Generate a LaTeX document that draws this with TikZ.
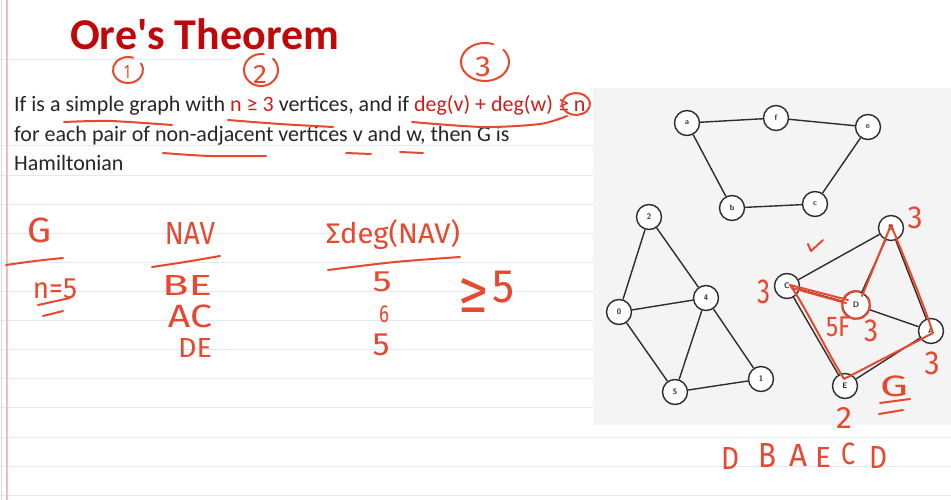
\documentclass[tikz,border=0pt]{standalone}
\usepackage{fontspec}
\usepackage{graphicx}
\setmainfont{Carlito}
\newfontfamily\hw{Fira Sans}
\definecolor{titlered}{RGB}{192,8,8}
\definecolor{txtred}{RGB}{205,30,30}
\definecolor{ink}{RGB}{232,72,46}
\definecolor{paperline}{RGB}{224,233,246}
\definecolor{margincol}{RGB}{242,188,194}
\definecolor{panelcol}{RGB}{244,244,244}
\definecolor{edgecol}{RGB}{45,45,45}
\newcommand\hwb[3]{\resizebox*{#1pt}{#2pt}{\hw #3}}
\tikzset{
  hwline/.style={draw=ink, line width=2pt, line cap=round, line join=round},
  vtx/.style={circle, draw=edgecol, line width=1.4pt, fill=white, minimum size=25pt, inner sep=0pt,
              font=\sffamily\bfseries\fontsize{8}{8}\selectfont, text=edgecol},
  gedge/.style={draw=edgecol, line width=1.4pt},
  hwtxt/.style={text=ink, inner sep=0pt},
  bodytxt/.style={anchor=base west, inner sep=0pt, text=black!85, font=\fontsize{22}{26}\selectfont}
}
\begin{document}
\begin{tikzpicture}[x=1pt,y=-1pt]
\useasboundingbox (0,0) rectangle (951,500);
\fill[white] (0,0) rectangle (951,500);
% notebook paper
\foreach \k in {0,...,12} \draw[paperline, line width=1pt] (0,{146+29.1*\k}) -- (951,{146+29.1*\k});
\draw[paperline, line width=1pt] (0,60) -- (233,60);
\draw[margincol, line width=1.5pt] (7,0) -- (7,500);
\draw[black!15, line width=0.8pt] (1,0) -- (1,500);
% title and statement
\node[anchor=base west, inner sep=0pt, text=titlered, font=\bfseries\fontsize{44}{44}\selectfont] (title) at (70,50) {Ore\textquotesingle s Theorem};
\node[bodytxt] (l1) at (14,112) {If is a simple graph with {\color{txtred}n ≥ 3} vertices, and if {\color{txtred}deg(v) + deg(w) ≥ n}};
\node[bodytxt] (l2) at (14,142) {for each pair of non-adjacent vertices v and w, then G is};
\node[bodytxt] (l3) at (14,171) {Hamiltonian};
% circled numbers
\draw[hwline] (128,70) ++(-30:15 and 13) arc[start angle=-30, end angle=290, x radius=15, y radius=13];
\node[hwtxt] (c1) at (127,72) {\hwb{6}{13}{1}};
\draw[hwline] (261,70) ++(-45:17 and 16) arc[start angle=-45, end angle=280, x radius=17, y radius=16];
\node[hwtxt] (c2) at (260,75) {\hwb{14}{18}{2}};
\draw[hwline] (485,62) ++(-40:24 and 19) arc[start angle=-40, end angle=290, x radius=24, y radius=19];
\node[hwtxt] (c3) at (483,67) {\hwb{16}{20}{3}};
\draw[hwline] (576,104) ++(60:14 and 11) arc[start angle=60, end angle=420, x radius=14, y radius=11];
% underlines
\draw[hwline] plot[smooth] coordinates {(64,122) (110,121) (172,125)};
\draw[hwline] plot[smooth] coordinates {(228,120) (280,124) (333,127)};
\draw[hwline] plot[smooth] coordinates {(412,122) (483,127) (540,124) (567,116)};
\draw[hwline] plot[smooth] coordinates {(163,153) (210,156) (266,156)};
\draw[hwline] (346,153) -- (371,154);
\draw[hwline] (400,152) -- (423,153);
% handwritten table
\node[hwtxt] (hG) at (40,230) {\hwb{24}{25}{G}};
\draw[hwline] plot[smooth] coordinates {(6,265) (35,261) (63,258)};
\node[hwtxt] (hn) at (55,289) {\hwb{44}{20}{n=5}};
\draw[hwline] (38,305) -- (70,298);
\draw[hwline] (43,316) -- (63,311);
\node[hwtxt] (hNAV) at (190,233) {\hwb{50}{22}{NAV}};
\draw[hwline] plot[smooth] coordinates {(152,267) (185,262) (220,256)};
\node[hwtxt] (hBE) at (187,285) {\hwb{50}{20}{BE}};
\node[hwtxt] (hAC) at (190,316) {\hwb{44}{23}{AC}};
\node[hwtxt] (hDE) at (195,348) {\hwb{34}{19}{DE}};
\node[hwtxt] (hSum) at (393,235) {\hwb{134}{30}{Σdeg(NAV)}};
\draw[hwline] plot[smooth] coordinates {(328,270) (395,262) (460,257)};
\node[hwtxt] (s1) at (382,282) {\hwb{19}{20}{5}};
\node[hwtxt] (s2) at (384,314) {\hwb{10}{17}{6}};
\node[hwtxt] (s3) at (381,345) {\hwb{17}{22}{5}};
\node[hwtxt] (hge) at (486,292) {\hwb{30}{34}{≥}\hspace{4pt}\raisebox{10pt}{\hwb{22}{32}{5}}};
% right panel
\fill[panelcol] (593,88) rectangle (951,425);
% graph 1
\node[vtx] (a) at (687,123) {a};
\node[vtx] (f) at (776,118) {f};
\node[vtx] (e) at (868,127) {e};
\node[vtx] (b) at (732,208) {b};
\node[vtx] (c) at (815,204) {c};
\draw[gedge] (a) -- (f) (f) -- (e) (a) -- (b) (b) -- (c) (c) -- (e);
% graph 2
\node[vtx] (n2) at (649,217) {2};
\node[vtx] (n0) at (619,312) {0};
\node[vtx] (n4) at (706,298) {4};
\node[vtx] (n5) at (675,392) {5};
\node[vtx] (n1) at (761,379) {1};
\draw[gedge] (n2) -- (n0) (n2) -- (n4) (n0) -- (n4) (n0) -- (n5) (n4) -- (n5) (n4) -- (n1) (n5) -- (n1);
% graph G
\node[vtx] (B) at (891,228) {B};
\node[vtx] (C) at (787,286) {C};
\node[vtx, minimum size=27pt] (D) at (856,305) {D};
\node[vtx] (A) at (931,331) {A};
\node[vtx] (E) at (845,386) {E};
\draw[gedge] (B) -- (C) (B) -- (A) (B) -- (D) (C) -- (D) (C) -- (E) (D) -- (A) (E) -- (A);
% red Hamiltonian cycle
\draw[hwline] ([shift={(6,-9)}]D.center) -- ([shift={(0,-3)}]B.center)
  .. controls (906,262) and (922,300) .. ([shift={(2,2)}]A.center)
  -- ([shift={(-1,-7)}]E.center)
  .. controls (826,350) and (805,306) .. ([shift={(3,-1)}]C.center)
  -- ([shift={(-8,-5)}]D.center);
\draw[hwline] ([shift={(5,2)}]C.center) -- ([shift={(-10,-2)}]D.center);
\draw[hwline] (D.center) ++(-35:14) arc[start angle=-35, end angle=285, radius=14];
\draw[hwline] (808,244) -- (811,251) -- (823,240);
\node[hwtxt] (dB) at (915,218) {\hwb{15}{22}{3}};
\node[hwtxt] (dC) at (764,292) {\hwb{13}{24}{3}};
\node[hwtxt] (dD1) at (838,327) {\hwb{24}{20}{5F}};
\node[hwtxt] (dD) at (871,331) {\hwb{14}{22}{3}};
\node[hwtxt] (dA) at (932,363) {\hwb{15}{23}{3}};
\node[hwtxt] (dE) at (844,418) {\hwb{16}{21}{2}};
\node[hwtxt] (gG) at (894,386) {\hwb{28}{21}{G}};
\draw[hwline] (880,403) -- (910,399);
\draw[hwline] (879,414) -- (903,410);
% Hamiltonian cycle written
\node[hwtxt] (q1) at (730,458) {\hwb{18}{22}{D}};
\node[hwtxt] (q2) at (767,455) {\hwb{18}{24}{B}};
\node[hwtxt] (q3) at (798,455) {\hwb{18}{22}{A}};
\node[hwtxt] (q4) at (823,457) {\hwb{16}{20}{E}};
\node[hwtxt] (q5) at (848,454) {\hwb{14}{22}{C}};
\node[hwtxt] (q6) at (878,457) {\hwb{18}{22}{D}};
\end{tikzpicture}
\end{document}
